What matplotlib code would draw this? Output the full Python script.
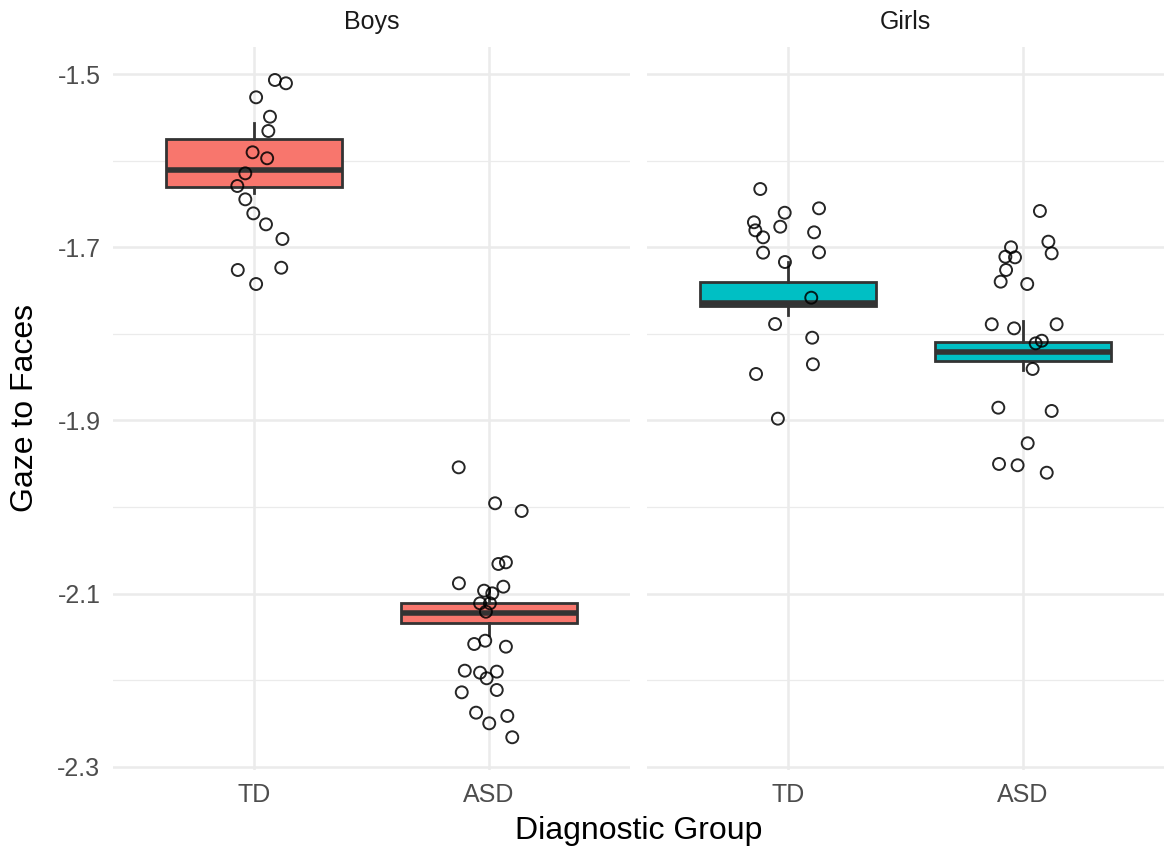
import matplotlib
matplotlib.use("Agg")
import matplotlib.pyplot as plt
import numpy as np

plt.rcParams['font.family'] = ['Liberation Sans', 'DejaVu Sans']

# ---- data ----
panels = ["Boys", "Girls"]
groups = ["TD", "ASD"]
colors = {"Boys": "#F8766D", "Girls": "#00BFC4"}

# box statistics
box_whislo = {"Boys": [-1.6374, -2.1478], "Girls": [-1.7783, -1.8418]}
box_q1 = {"Boys": [-1.6305, -2.1343], "Girls": [-1.7679, -1.8314]}
box_med = {"Boys": [-1.6109, -2.1227], "Girls": [-1.7648, -1.8214]}
box_q3 = {"Boys": [-1.5751, -2.1112], "Girls": [-1.7405, -1.8091]}
box_whishi = {"Boys": [-1.5566, -2.0935], "Girls": [-1.7167, -1.7849]}

boys_td = [-1.5069, -1.5107, -1.5269, -1.5493, -1.5658, -1.5904, -1.5973, -1.6147,
           -1.6293, -1.6447, -1.6609, -1.6736, -1.6905, -1.7263, -1.7237, -1.7425]
boys_td_jit = [0.089, 0.136, 0.009, 0.068, 0.061, -0.006, 0.056, -0.037,
               -0.071, -0.037, -0.003, 0.051, 0.121, -0.069, 0.116, 0.009]

boys_asd = [-1.9542, -1.9957, -2.0046, -2.0658, -2.0639, -2.0881, -2.0966, -2.0997,
            -2.0920, -2.1112, -2.1112, -2.1209, -2.1582, -2.1544, -2.1613, -2.1890,
            -2.1913, -2.1978, -2.1901, -2.2140, -2.2113, -2.2375, -2.2413, -2.2498,
            -2.2659]
boys_asd_jit = [-0.129, 0.026, 0.139, 0.040, 0.072, -0.128, -0.021, 0.014,
                0.061, -0.038, 0.004, -0.013, -0.063, -0.016, 0.072, -0.103,
                -0.038, -0.010, 0.033, -0.116, 0.033, -0.055, 0.078, 0.001,
                0.099]

girls_td = [-1.6328, -1.6551, -1.6602, -1.6712, -1.6805, -1.6763, -1.6886, -1.6828,
            -1.7063, -1.7059, -1.7171, -1.7583, -1.7887, -1.8045, -1.8352, -1.8464,
            -1.8980]
girls_td_jit = [-0.118, 0.132, -0.014, -0.145, -0.139, -0.033, -0.106, 0.111,
                -0.106, 0.132, -0.013, 0.099, -0.055, 0.103, 0.106, -0.136,
                -0.043]

girls_asd = [-1.6582, -1.6936, -1.7071, -1.7001, -1.7110, -1.7117, -1.7263, -1.7398,
             -1.7425, -1.7890, -1.7937, -1.7890, -1.8110, -1.8080, -1.8406, -1.8853,
             -1.8891, -1.9264, -1.9503, -1.9518, -1.9604]
girls_asd_jit = [0.072, 0.108, 0.122, -0.051, -0.075, -0.034, -0.072, -0.095,
                 0.018, -0.133, -0.038, 0.143, 0.054, 0.080, 0.041, -0.105,
                 0.122, 0.020, -0.102, -0.023, 0.101]

points = {"Boys": [(boys_td, boys_td_jit), (boys_asd, boys_asd_jit)],
          "Girls": [(girls_td, girls_td_jit), (girls_asd, girls_asd_jit)]}

major_y = [-2.3, -2.1, -1.9, -1.7, -1.5]
minor_y = [-2.2, -2.0, -1.8, -1.6]

# ---- figure ----
W, H = 1164, 852
fig = plt.figure(figsize=(W / 100, H / 100), dpi=100)

panel_left = [113 / W, 647 / W]
pw = 517 / W
pb = 1 - 770 / H
ph = (770 - 47) / H

grid_col = "#EBEBEB"
edge_col = "#333333"

axes = []
for i, p in enumerate(panels):
    ax = fig.add_axes([panel_left[i], pb, pw, ph])
    axes.append(ax)

    stats = []
    for j in range(2):
        stats.append(dict(med=box_med[p][j], q1=box_q1[p][j], q3=box_q3[p][j],
                          whislo=box_whislo[p][j], whishi=box_whishi[p][j],
                          fliers=[]))
    ax.bxp(stats, positions=[1, 2], widths=0.75, patch_artist=True,
           showcaps=False, showfliers=False, manage_ticks=False,
           boxprops=dict(facecolor=colors[p], edgecolor=edge_col, linewidth=2.0),
           medianprops=dict(color=edge_col, linewidth=4.0, solid_capstyle="butt"),
           whiskerprops=dict(color=edge_col, linewidth=2.0),
           zorder=2)

    for j, (vals, jit) in enumerate(points[p]):
        xs = np.array(jit) + (j + 1)
        ax.scatter(xs, vals, s=74, facecolors="none", edgecolors="black",
                   linewidths=1.4, alpha=0.85, zorder=3)

    ax.set_xlim(0.4, 2.6)
    ax.set_ylim(-2.3037, -1.4688)
    ax.set_yticks(major_y)
    ax.set_yticks(minor_y, minor=True)
    ax.set_xticks([1, 2])
    ax.set_xticklabels(groups)
    ax.grid(True, which="major", color=grid_col, linewidth=1.8, zorder=0)
    ax.grid(True, which="minor", axis="y", color=grid_col, linewidth=0.9, zorder=0)
    ax.set_axisbelow(True)
    for s in ax.spines.values():
        s.set_visible(False)
    ax.tick_params(which="both", length=0, labelsize=18, colors="#4D4D4D", pad=9)
    if i == 0:
        ax.set_yticklabels([f"{v:.1f}" for v in major_y])
    else:
        ax.tick_params(axis="y", labelleft=False)

    ax.text(1.5, 1.0 + 25 / 723, p, transform=ax.get_xaxis_transform(),
            ha="center", va="center", fontsize=18, color="#1A1A1A")

fig.text((113 + 1164) / 2 / W, 1 - 831 / H, "Diagnostic Group",
         ha="center", va="center", fontsize=23, color="black")
fig.text(25 / W, 1 - 408 / H, "Gaze to Faces", rotation=90,
         ha="center", va="center", fontsize=23, color="black")

fig.savefig("out.png", dpi=100, facecolor="white")
